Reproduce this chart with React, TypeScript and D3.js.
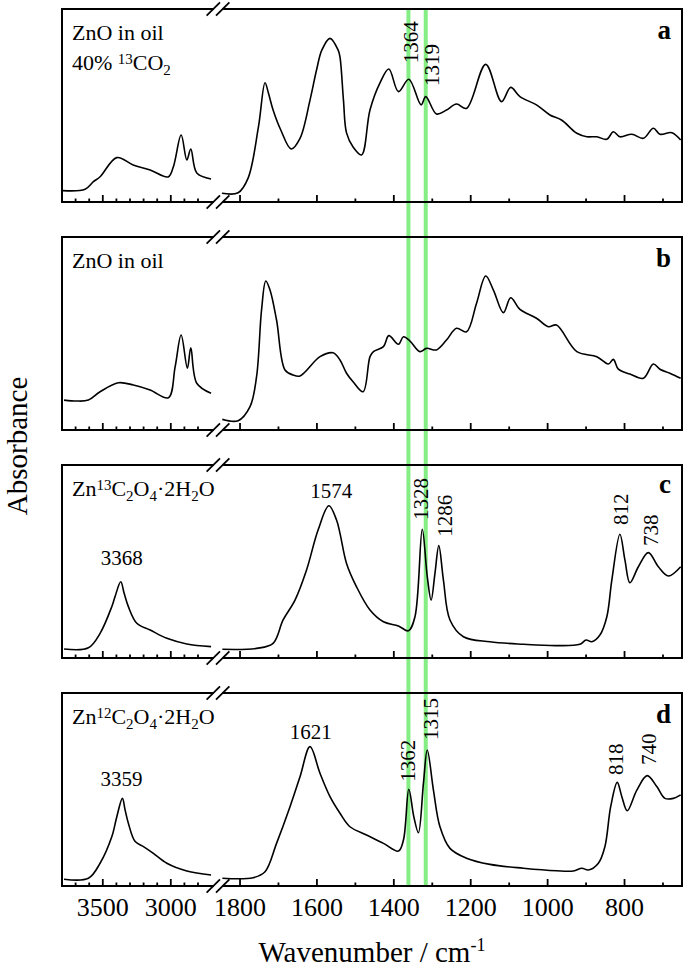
import React from 'react';
import * as d3 from 'd3';

type Pt = [number, number];

// ---------- axis ticks ----------
const highMajorTicks = [3500, 3000];
const highMinorTicks = [3700, 3600, 3400, 3300, 3200, 3100, 2900, 2800];
const lowMajorTicks = [1800, 1600, 1400, 1200, 1000, 800];
const lowMinorTicks = [1700, 1500, 1300, 1100, 900, 700];
const markerLines = [1362, 1317];

// ---------- spectra (wavenumber, absorbance in panel units) ----------
const aHigh: Pt[] = [
  [3794, 0.059], [3630, 0.066], [3569, 0.105], [3520, 0.131], [3397, 0.23], [3277, 0.192],
  [3152, 0.166], [3020, 0.13], [2981, 0.183], [2924, 0.347], [2882, 0.218], [2853, 0.275],
  [2809, 0.15], [2704, 0.119],
];
const aLow: Pt[] = [
  [1847, 0.045], [1805, 0.048], [1779, 0.124], [1752, 0.39], [1735, 0.618], [1726, 0.563],
  [1714, 0.477], [1694, 0.373], [1667, 0.275], [1644, 0.33], [1618, 0.528], [1601, 0.684],
  [1587, 0.788], [1566, 0.848], [1545, 0.788], [1540, 0.751], [1531, 0.528], [1523, 0.358],
  [1506, 0.285], [1484, 0.244], [1462, 0.477], [1436, 0.617], [1413, 0.689], [1388, 0.572],
  [1361, 0.636], [1329, 0.503], [1317, 0.546], [1289, 0.456], [1263, 0.477], [1237, 0.508],
  [1211, 0.485], [1161, 0.713], [1120, 0.52], [1096, 0.594], [1072, 0.546], [1029, 0.503],
  [994, 0.451], [964, 0.425], [924, 0.356], [898, 0.338], [872, 0.338], [846, 0.325],
  [829, 0.364], [812, 0.338], [781, 0.351], [751, 0.33], [725, 0.382], [708, 0.351],
  [677, 0.359], [654, 0.321],
];
const bHigh: Pt[] = [
  [3785, 0.155], [3691, 0.15], [3606, 0.155], [3520, 0.198], [3385, 0.245], [3275, 0.233],
  [3152, 0.207], [3018, 0.167], [2968, 0.328], [2924, 0.492], [2878, 0.32], [2853, 0.426],
  [2809, 0.242], [2704, 0.19],
];
const bLow: Pt[] = [
  [1846, 0.055], [1805, 0.048], [1774, 0.121], [1757, 0.276], [1744, 0.622], [1733, 0.772],
  [1722, 0.725], [1705, 0.57], [1683, 0.311], [1662, 0.285], [1644, 0.28], [1592, 0.38],
  [1558, 0.4], [1540, 0.363], [1523, 0.294], [1506, 0.25], [1480, 0.198], [1462, 0.38],
  [1453, 0.406], [1427, 0.432], [1413, 0.489], [1388, 0.444], [1375, 0.483], [1358, 0.461],
  [1332, 0.406], [1315, 0.423], [1289, 0.415], [1263, 0.466], [1237, 0.527], [1211, 0.509],
  [1185, 0.656], [1161, 0.798], [1141, 0.725], [1115, 0.608], [1096, 0.685], [1072, 0.625],
  [1029, 0.579], [998, 0.535], [977, 0.544], [924, 0.406], [872, 0.38], [842, 0.342],
  [829, 0.366], [816, 0.315], [786, 0.29], [751, 0.268], [725, 0.342], [708, 0.315],
  [682, 0.294], [654, 0.268],
];
const cHigh: Pt[] = [
  [3785, 0.047], [3606, 0.053], [3520, 0.128], [3434, 0.266], [3410, 0.318], [3368, 0.395],
  [3343, 0.335], [3312, 0.266], [3250, 0.18], [3152, 0.145], [3029, 0.102], [2882, 0.073],
  [2704, 0.059],
];
const cLow: Pt[] = [
  [1846, 0.045], [1757, 0.05], [1714, 0.076], [1688, 0.197], [1657, 0.3], [1627, 0.456],
  [1597, 0.663], [1569, 0.789], [1549, 0.715], [1540, 0.646], [1523, 0.49], [1497, 0.369],
  [1462, 0.249], [1427, 0.188], [1388, 0.166], [1362, 0.141], [1345, 0.214], [1326, 0.667],
  [1313, 0.421], [1303, 0.3], [1293, 0.439], [1283, 0.582], [1271, 0.404], [1254, 0.197],
  [1219, 0.11], [1150, 0.084], [1063, 0.071], [977, 0.064], [916, 0.071], [900, 0.093],
  [885, 0.084], [864, 0.119], [846, 0.214], [833, 0.404], [812, 0.641], [799, 0.508],
  [786, 0.39], [764, 0.473], [738, 0.546], [712, 0.473], [686, 0.425], [654, 0.473],
];
const dHigh: Pt[] = [
  [3785, 0.035], [3606, 0.04], [3520, 0.118], [3434, 0.255], [3397, 0.359], [3356, 0.454],
  [3336, 0.394], [3312, 0.325], [3262, 0.23], [3201, 0.204], [3128, 0.169], [3029, 0.118],
  [2882, 0.078], [2704, 0.057],
];
const dLow: Pt[] = [
  [1846, 0.04], [1766, 0.043], [1735, 0.074], [1705, 0.221], [1670, 0.411], [1644, 0.566],
  [1618, 0.722], [1592, 0.584], [1566, 0.463], [1540, 0.377], [1514, 0.307], [1471, 0.264],
  [1427, 0.221], [1388, 0.181], [1375, 0.238], [1361, 0.501], [1348, 0.359], [1336, 0.276],
  [1323, 0.532], [1313, 0.705], [1297, 0.497], [1280, 0.307], [1254, 0.195], [1211, 0.144],
  [1150, 0.112], [1063, 0.092], [977, 0.079], [933, 0.078], [911, 0.092], [894, 0.083],
  [868, 0.118], [851, 0.204], [836, 0.411], [819, 0.537], [807, 0.463], [793, 0.39],
  [768, 0.497], [741, 0.572], [716, 0.515], [695, 0.454], [673, 0.454], [654, 0.472],
];

// ---------- annotations ----------
type Part = { t: string; k?: 'sup' | 'sub' };
const panelLetters = ['a', 'b', 'c', 'd'];
const sampleNames: Part[][][] = [
  [[{ t: 'ZnO in oil' }], [{ t: '40% ' }, { t: '13', k: 'sup' }, { t: 'CO' }, { t: '2', k: 'sub' }]],
  [[{ t: 'ZnO in oil' }]],
  [[{ t: 'Zn' }, { t: '13', k: 'sup' }, { t: 'C' }, { t: '2', k: 'sub' }, { t: 'O' }, { t: '4', k: 'sub' },
    { t: '·2H' }, { t: '2', k: 'sub' }, { t: 'O' }]],
  [[{ t: 'Zn' }, { t: '12', k: 'sup' }, { t: 'C' }, { t: '2', k: 'sub' }, { t: 'O' }, { t: '4', k: 'sub' },
    { t: '·2H' }, { t: '2', k: 'sub' }, { t: 'O' }]],
];
// [panel, text, wavenumber anchor, absorbance anchor, rotated, high region]
type PeakLabel = [number, string, number, number, boolean, boolean];
const peakLabels: PeakLabel[] = [
  [0, '1364', 1337, 0.719, true, false],
  [0, '1319', 1283, 0.601, true, false],
  [2, '3368', 3360, 0.482, false, true],
  [2, '1574', 1563, 0.829, false, false],
  [2, '1328', 1311, 0.715, true, false],
  [2, '1286', 1250, 0.628, true, false],
  [2, '812', 791, 0.689, true, false],
  [2, '738', 713, 0.58, true, false],
  [3, '3359', 3363, 0.518, false, true],
  [3, '1621', 1616, 0.76, false, false],
  [3, '1362', 1345, 0.54, true, false],
  [3, '1315', 1285, 0.756, true, false],
  [3, '818', 804, 0.575, true, false],
  [3, '740', 718, 0.627, true, false],
];

const spectra: [Pt[], Pt[]][] = [[aHigh, aLow], [bHigh, bLow], [cHigh, cLow], [dHigh, dLow]];

// ---------- layout ----------
const W = 685, H = 968;
const left = 62, right = 682;
const panelTops = [9, 237, 465, 693];
const panelH = 193;
const FONT = '"Liberation Serif", "Times New Roman", serif';

const xHigh = d3.scaleLinear().domain([3800, 2700]).range([62, 211.6]);
const xLow = d3.scaleLinear().domain([1850, 650]).range([220.8, 682.2]);
const breakA = 213.3, breakB = 222.7;

function Rich({ x, y, parts, size }: { x: number; y: number; parts: Part[]; size: number }) {
  let cur = 0;
  const small = size * 0.68;
  return (
    <text x={x} y={y} fontSize={size} fontFamily={FONT}>
      {parts.map((p, i) => {
        const target = p.k === 'sup' ? -0.28 * size : p.k === 'sub' ? 0.24 * size : 0;
        const dy = target - cur;
        cur = target;
        return (
          <tspan key={i} dy={dy} fontSize={p.k ? small : size}>{p.t}</tspan>
        );
      })}
    </text>
  );
}

function Panel({ idx }: { idx: number }) {
  const top = panelTops[idx];
  const bottom = top + panelH;
  const y = d3.scaleLinear().domain([0, 1]).range([bottom, top]);
  const [hi, lo] = spectra[idx];
  const lineHi = d3.line<Pt>().x(d => xHigh(d[0])).y(d => y(d[1])).curve(d3.curveCatmullRom.alpha(0.5));
  const lineLo = d3.line<Pt>().x(d => xLow(d[0])).y(d => y(d[1])).curve(d3.curveCatmullRom.alpha(0.5));
  const major = 7, minor = 3.5;
  const breakMark = (yy: number, k: string) => (
    <g key={k}>
      <line x1={breakA + 0.5} x2={breakB - 0.5} y1={yy} y2={yy} stroke="#fff" strokeWidth={4} />
      {[breakA, breakB].map((cx, j) => (
        <line key={j} x1={cx - 6.7} y1={yy + 6.7} x2={cx + 6.7} y2={yy - 6.7} stroke="#000" strokeWidth={1.8} />
      ))}
    </g>
  );
  return (
    <g>
      <path d={lineHi(hi) || ''} fill="none" stroke="#000" strokeWidth={1.6} strokeLinejoin="round" />
      <path d={lineLo(lo) || ''} fill="none" stroke="#000" strokeWidth={1.6} strokeLinejoin="round" />
      <rect x={left} y={top} width={right - left} height={panelH} fill="none" stroke="#000" strokeWidth={2} />
      {highMajorTicks.map(t => (
        <line key={'hM' + t} x1={xHigh(t)} x2={xHigh(t)} y1={bottom} y2={bottom - major} stroke="#000" strokeWidth={1.8} />
      ))}
      {highMinorTicks.map(t => (
        <line key={'hm' + t} x1={xHigh(t)} x2={xHigh(t)} y1={bottom} y2={bottom - minor} stroke="#000" strokeWidth={1.8} />
      ))}
      {lowMajorTicks.map(t => (
        <line key={'lM' + t} x1={xLow(t)} x2={xLow(t)} y1={bottom} y2={bottom - major} stroke="#000" strokeWidth={1.8} />
      ))}
      {lowMinorTicks.map(t => (
        <line key={'lm' + t} x1={xLow(t)} x2={xLow(t)} y1={bottom} y2={bottom - minor} stroke="#000" strokeWidth={1.8} />
      ))}
      {breakMark(top, 't')}
      {breakMark(bottom, 'b')}
      {sampleNames[idx].map((parts, i) => (
        <Rich key={i} x={72} y={top + 31 + i * 30} parts={parts} size={22} />
      ))}
      <text x={671} y={top + (idx === 2 ? 28 : 30)} textAnchor="end"
        fontSize={27} fontWeight="bold" fontFamily={FONT}>{panelLetters[idx]}</text>
      {peakLabels.filter(p => p[0] === idx).map((p, i) => {
        const px = p[5] ? xHigh(p[2]) : xLow(p[2]);
        const py = y(p[3]);
        return p[4] ? (
          <text key={i} transform={`translate(${px},${py}) rotate(-90)`} fontSize={21} fontFamily={FONT}>{p[1]}</text>
        ) : (
          <text key={i} x={px} y={py} textAnchor="middle" fontSize={21} fontFamily={FONT}>{p[1]}</text>
        );
      })}
    </g>
  );
}

export default function App() {
  const lastBottom = panelTops[3] + panelH;
  return (
    <svg width={W} height={H} viewBox={`0 0 ${W} ${H}`}
      style={{ position: 'absolute', left: 0, top: 0, display: 'block', background: '#fff' }}>
      <rect x={0} y={0} width={W} height={H} fill="#fff" />
      {markerLines.map(w => (
        <line key={w} x1={xLow(w)} x2={xLow(w)} y1={panelTops[0]} y2={lastBottom} stroke="#84ee84" strokeWidth={4} />
      ))}
      {panelLetters.map((_, i) => <Panel key={i} idx={i} />)}
      {highMajorTicks.map(t => (
        <text key={'th' + t} x={xHigh(t)} y={916} textAnchor="middle" fontSize={26} fontFamily={FONT}>{t}</text>
      ))}
      {lowMajorTicks.map(t => (
        <text key={'tl' + t} x={xLow(t)} y={916} textAnchor="middle" fontSize={26} fontFamily={FONT}>{t}</text>
      ))}
      <text x={(left + right) / 2} y={962} textAnchor="middle" fontSize={29} fontFamily={FONT}>
        Wavenumber / cm<tspan dy={-11} fontSize={18}>-1</tspan>
      </text>
      <text transform={`translate(27,446) rotate(-90)`} textAnchor="middle" fontSize={29} fontFamily={FONT}>Absorbance</text>
    </svg>
  );
}
